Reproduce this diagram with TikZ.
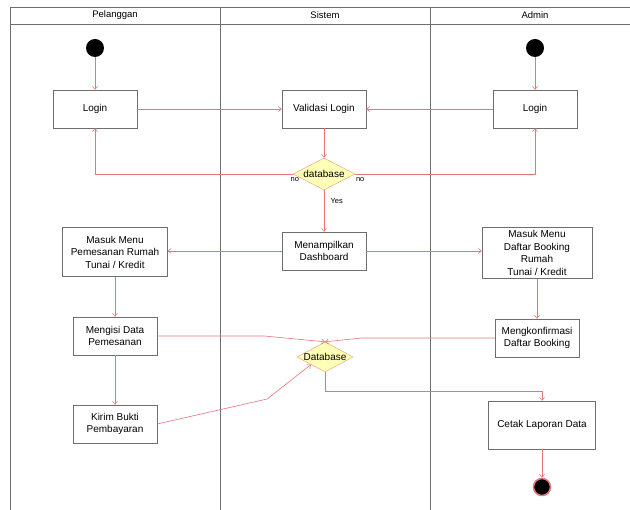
\documentclass[tikz,border=0pt]{standalone}
\usepackage{fontspec}
\setmainfont{Liberation Sans}
\usetikzlibrary{shapes.geometric,arrows.meta}
\definecolor{flowred}{HTML}{E8737A}
\definecolor{lanegray}{HTML}{6E6E6E}
\definecolor{dbfill}{HTML}{FFFFB8}
\definecolor{dbline}{HTML}{E39A6E}

\begin{document}
\begin{tikzpicture}[x=1pt, y=-1pt,
  act/.style={draw=lanegray, fill=white, minimum width=84pt, minimum height=38pt, align=center, inner sep=1pt, font=\fontsize{10}{12.5}\selectfont},
  decision/.style={diamond, draw=dbline, fill=dbfill, inner sep=0pt, minimum width=62pt, minimum height=32pt},
  dbtext/.style={font=\fontsize{10}{12}\selectfont, inner sep=0pt},
  startdot/.style={circle, fill=black, minimum size=18pt, inner sep=0pt},
  enddot/.style={circle, fill=black, draw=flowred, line width=1.5pt, minimum size=17pt, inner sep=0pt},
  flow/.style={draw=flowred, line width=0.6pt, -{Straight Barb[length=3pt,width=5pt]}},
  small/.style={font=\fontsize{7.5}{9}\selectfont},
  lane/.style={draw=lanegray, line width=0.8pt}]
\useasboundingbox (0,0) rectangle (630,510);

\draw[lane] (10,7) -- (630,7);
\draw[lane] (10,24) -- (630,24);
\draw[lane] (10,7) -- (10,510);
\draw[lane] (220,7) -- (220,510);
\draw[lane] (430,7) -- (430,510);
\node[font=\fontsize{9.5}{12}\selectfont] (pelanggan) at (115,15.5) {Pelanggan};
\node[font=\fontsize{9.5}{12}\selectfont] (sistem) at (325,15.5) {Sistem};
\node[font=\fontsize{9.5}{12}\selectfont] (admin) at (535,15.5) {Admin};

\node[startdot] (startP) at (95,48) {};
\node[act] (loginP) at (95,109) {Login};
\node[act] (validasi) at (324,109) {Validasi Login};
\node[act] (loginA) at (535,109) {Login};
\node[startdot] (startA) at (535,48) {};
\node[decision, label={[dbtext]center:database}] (db1) at (324,174) {};
\node[act] (dashboard) at (324,251) {Menampilkan\\Dashboard};
\node[act, minimum width=105pt, minimum height=49pt] (menuP) at (115,252) {Masuk Menu\\Pemesanan Rumah\\Tunai / Kredit};
\node[act, minimum width=110pt, minimum height=51pt] (menuA) at (537,253) {Masuk Menu\\Daftar Booking\\Rumah\\Tunai / Kredit};
\node[act] (isi) at (115,336) {Mengisi Data\\Pemesanan};
\node[act] (kirim) at (115,424) {Kirim Bukti\\Pembayaran};
\node[act] (konfirmasi) at (537,338) {Mengkonfirmasi\\Daftar Booking};
\node[decision, minimum width=56pt, minimum height=30pt, label={[dbtext]center:Database}] (db2) at (325,357) {};
\node[act, minimum width=107pt, minimum height=48pt] (cetak) at (542,425) {Cetak Laporan Data};
\node[enddot] (endA) at (542,487) {};

\draw[flow] (startP) -- (loginP);
\draw[flow] (startA) -- (loginA);
\draw[flow] (loginP) -- (validasi);
\draw[flow] (loginA) -- (validasi);
\draw[flow] (validasi) -- (db1);
\draw[flow] (db1.west) -| (loginP.south) node[small, at start, below, xshift=2pt] {no};
\draw[flow] (db1.east) -| (loginA.south) node[small, at start, below, xshift=5pt] {no};
\draw[flow] (db1) -- (dashboard) node[small, pos=0.25, right, xshift=3pt] {Yes};
\draw[flow] (dashboard.west) -- (dashboard.west -| menuP.east);
\draw[flow] (dashboard.east) -- (dashboard.east -| menuA.west);
\draw[flow] (menuP) -- (isi);
\draw[flow] (isi) -- (kirim);
\draw[flow] (menuA) -- (konfirmasi);
\draw[flow] (isi.east) -- ++(107,0) -- (db2.north);
\draw[flow] (konfirmasi.west) -- ++(-133,0) -- (db2.north);
\draw[flow] (kirim.east) -- ++(110,-25) -- (db2.south west);
\draw[flow] (db2.south) -- ++(0,19) -| (cetak.north);
\draw[flow] (cetak) -- (endA);
\end{tikzpicture}
\end{document}
